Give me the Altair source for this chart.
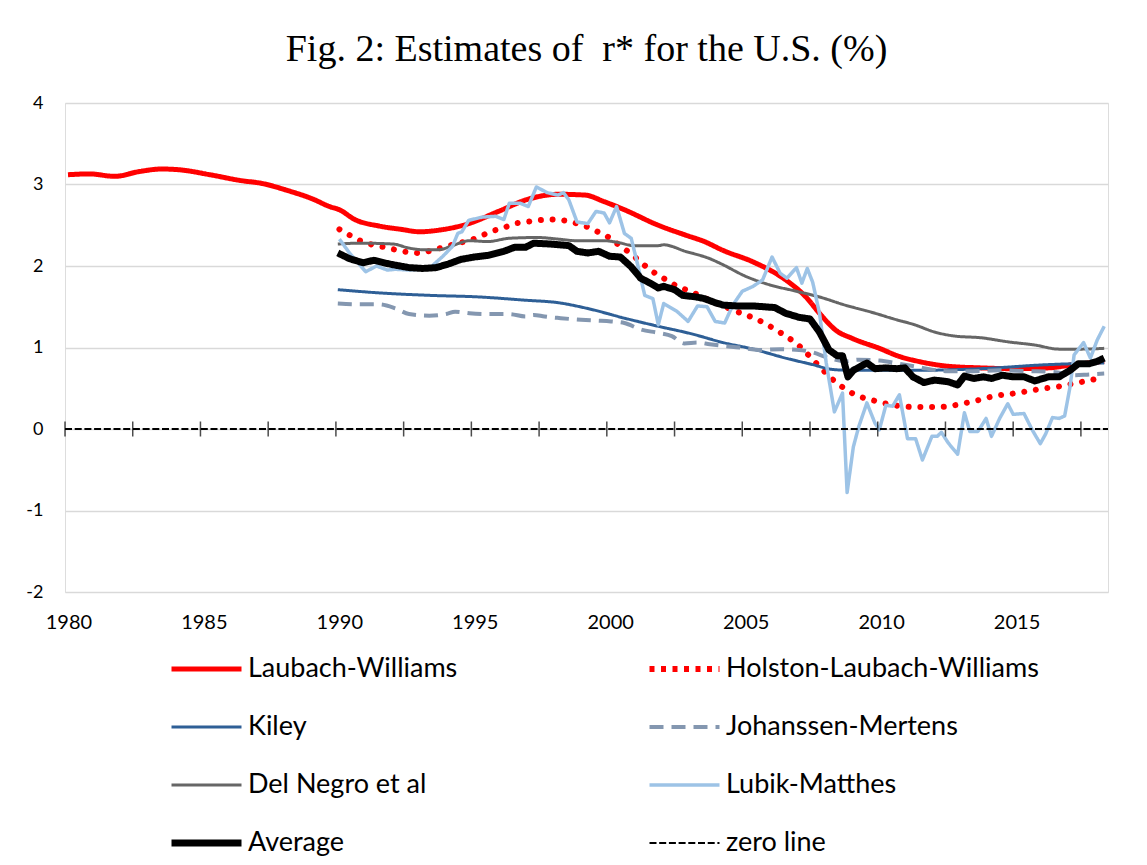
import altair as alt
import pandas as pd

# ---- data (x = decimal year position, y = %) ----
lw_x = [1980.11, 1980.9, 1981.84, 1982.76, 1983.56, 1984.24, 1985.35, 1986.46, 1987.32, 1988.18,
        1989.16, 1989.76, 1990.13, 1990.7, 1991.6, 1992.4, 1993.1, 1993.8, 1994.9, 1996.0, 1997.1,
        1998.2, 1999.2, 1999.9, 2000.65, 2001.9, 2002.9, 2003.6, 2004.3, 2005.4, 2006.6, 2007.35,
        2007.85, 2008.46, 2009.07, 2010.06, 2010.8, 2011.5, 2012.6, 2013.8, 2015.0, 2016.3,
        2017.25, 2018.36]
lw_y = [3.12, 3.13, 3.10, 3.16, 3.19, 3.18, 3.12, 3.05, 3.01, 2.93,
        2.82, 2.73, 2.69, 2.57, 2.49, 2.45, 2.42, 2.44, 2.52, 2.67, 2.82,
        2.88, 2.87, 2.79, 2.69, 2.50, 2.38, 2.30, 2.19, 2.05, 1.83, 1.62,
        1.42, 1.21, 1.11, 0.99, 0.89, 0.83, 0.77, 0.75, 0.74, 0.75,
        0.79, 0.83]

hlw_x = [1990.13, 1990.5, 1990.9, 1991.36, 1991.8, 1992.2, 1992.65, 1993.15, 1993.6, 1994.0, 1994.5,
         1994.9, 1995.3, 1995.7, 1996.2, 1996.6, 1997.0, 1997.45, 1997.94, 1998.4, 1998.8, 1999.2,
         1999.6, 2000.03, 2000.4, 2000.77, 2001.14, 2001.5, 2001.88, 2002.25, 2002.6, 2003.0, 2003.8,
         2004.65, 2005.57, 2006.37, 2007.1, 2007.72, 2008.4, 2009.11, 2009.96, 2010.86, 2011.4,
         2012.2, 2012.64, 2013.1, 2013.56, 2014.0, 2014.4, 2014.9, 2015.3, 2015.8, 2016.2, 2016.66,
         2017.1, 2017.56, 2018.0, 2018.36]
hlw_y = [2.45, 2.38, 2.31, 2.26, 2.23, 2.20, 2.17, 2.16, 2.20, 2.23, 2.28,
         2.31, 2.36, 2.42, 2.47, 2.52, 2.54, 2.56, 2.57, 2.56, 2.53, 2.49,
         2.43, 2.36, 2.27, 2.18, 2.08, 1.98, 1.89, 1.82, 1.75, 1.70, 1.58,
         1.46, 1.34, 1.19, 1.02, 0.81, 0.59, 0.43, 0.34, 0.28, 0.27,
         0.27, 0.28, 0.31, 0.34, 0.38, 0.41, 0.43, 0.45, 0.48, 0.50, 0.52,
         0.55, 0.58, 0.61, 0.64]

kiley_x = [1990.07, 1991.6, 1993.45, 1995.3, 1997.0, 1998.2, 1999.4, 2000.65, 2001.9, 2003.1,
           2004.3, 2005.4, 2006.6, 2007.6, 2008.34, 2009.07, 2010.3, 2011.5, 2013.8, 2016.3, 2018.36]
kiley_y = [1.71, 1.67, 1.64, 1.62, 1.58, 1.55, 1.47, 1.36, 1.26, 1.17,
           1.06, 0.98, 0.87, 0.79, 0.73, 0.72, 0.72, 0.72, 0.74, 0.79, 0.81]

jm_x = [1990.07, 1990.9, 1991.6, 1992.2, 1992.7, 1993.45, 1994.07, 1994.4, 1994.93, 1995.6, 1996.4,
        1997.0, 1997.3, 1997.7, 1998.3, 1999.05, 1999.6, 2000.15, 2000.65, 2001.27, 2001.9, 2002.4,
        2002.86, 2003.35, 2003.8, 2004.3, 2004.9, 2005.6, 2006.4, 2007.1, 2007.6, 2008.2, 2008.8,
        2009.3, 2010.06, 2010.8, 2011.5, 2012.5, 2013.5, 2014.5, 2015.5, 2016.5, 2017.25, 2017.8,
        2018.36]
jm_y = [1.54, 1.53, 1.53, 1.48, 1.41, 1.39, 1.41, 1.44, 1.42, 1.41, 1.41,
        1.38, 1.40, 1.38, 1.36, 1.34, 1.33, 1.32, 1.30, 1.22, 1.18, 1.14,
        1.05, 1.06, 1.04, 1.02, 1.00, 0.97, 0.98, 0.97, 0.94, 0.87, 0.83,
        0.85, 0.84, 0.80, 0.76, 0.71, 0.71, 0.72, 0.71, 0.70, 0.66, 0.67,
        0.68]

dn_x = [1990.07, 1990.9, 1992.1, 1992.7, 1993.2, 1993.8, 1994.3, 1994.93, 1995.6, 1996.4, 1997.45,
        1998.2, 1998.9, 1999.9, 2000.4, 2001.0, 2001.9, 2002.1, 2002.9, 2003.8, 2004.2, 2005.15,
        2006.0, 2007.0, 2007.85, 2008.8, 2009.8, 2010.7, 2011.35, 2012.1, 2012.85, 2013.8, 2014.8,
        2015.8, 2016.7, 2017.5, 2018.36]
dn_y = [2.27, 2.28, 2.27, 2.22, 2.20, 2.20, 2.25, 2.31, 2.30, 2.34, 2.35,
        2.33, 2.31, 2.31, 2.29, 2.25, 2.25, 2.26, 2.18, 2.09, 2.03, 1.87,
        1.77, 1.69, 1.62, 1.52, 1.43, 1.34, 1.28, 1.19, 1.14, 1.12, 1.07,
        1.03, 0.98, 0.98, 0.99]

lm_x = [1990.13, 1990.5, 1991.1, 1991.5, 1991.9, 1992.2, 1992.7, 1993.45, 1993.95, 1994.3, 1994.5,
        1994.65, 1994.9, 1995.4, 1995.9, 1996.2, 1996.4, 1996.8, 1997.1, 1997.4, 1997.8, 1998.2,
        1998.4, 1998.6, 1998.9, 1999.3, 1999.6, 1999.9, 2000.1, 2000.36, 2000.65, 2000.9, 2001.1,
        2001.4, 2001.7, 2001.9, 2002.1, 2002.6, 2003.0, 2003.35, 2003.7, 2004.0, 2004.35, 2004.65,
        2005.0, 2005.4, 2005.75, 2006.1, 2006.4, 2006.65, 2007.0, 2007.2, 2007.4, 2007.6, 2007.85,
        2008.1, 2008.4, 2008.7, 2008.87, 2009.1, 2009.3, 2009.6, 2009.9, 2010.06, 2010.3, 2010.55,
        2010.8, 2011.1, 2011.4, 2011.65, 2012.0, 2012.2, 2012.35, 2012.6, 2012.95, 2013.2, 2013.4,
        2013.7, 2014.0, 2014.2, 2014.5, 2014.8, 2015.0, 2015.4, 2015.7, 2016.0, 2016.2, 2016.45,
        2016.7, 2016.9, 2017.1, 2017.25, 2017.6, 2017.85, 2018.1, 2018.36]
lm_y = [2.33, 2.16, 1.93, 2.00, 1.95, 1.96, 1.95, 1.97, 2.12, 2.24, 2.40,
        2.42, 2.56, 2.60, 2.61, 2.57, 2.77, 2.77, 2.73, 2.97, 2.90, 2.87,
        2.90, 2.81, 2.54, 2.52, 2.67, 2.65, 2.53, 2.73, 2.40, 2.34, 2.07,
        1.64, 1.60, 1.28, 1.54, 1.44, 1.32, 1.51, 1.50, 1.32, 1.30, 1.52,
        1.69, 1.75, 1.83, 2.11, 1.91, 1.85, 1.98, 1.79, 1.97, 1.80, 1.42,
        0.81, 0.21, 0.44, -0.78, -0.22, 0.03, 0.32, 0.07, -0.01, 0.29, 0.28,
        0.42, -0.12, -0.12, -0.38, -0.09, -0.09, -0.04, -0.17, -0.31, 0.20, -0.03,
        -0.03, 0.13, -0.09, 0.13, 0.31, 0.18, 0.19, -0.01, -0.18, -0.06, 0.14,
        0.13, 0.16, 0.52, 0.91, 1.06, 0.87, 1.09, 1.26]

avg_x = [1990.07, 1990.5, 1991.0, 1991.4, 1991.9, 1992.2, 1992.7, 1993.2, 1993.7, 1994.2, 1994.6,
         1995.1, 1995.6, 1996.2, 1996.6, 1997.0, 1997.3, 1997.9, 1998.6, 1998.9, 1999.3, 1999.7,
         2000.1, 2000.5, 2000.9, 2001.25, 2001.6, 2001.9, 2002.1, 2002.5, 2002.8, 2003.3, 2003.6,
         2004.0, 2004.3, 2004.8, 2005.4, 2006.2, 2006.6, 2007.1, 2007.5, 2007.85, 2008.2, 2008.5,
         2008.7, 2008.9, 2009.1, 2009.6, 2009.9, 2010.3, 2010.7, 2011.0, 2011.3, 2011.7, 2012.1,
         2012.6, 2012.95, 2013.2, 2013.55, 2013.9, 2014.2, 2014.6, 2015.0, 2015.4, 2015.8, 2016.3,
         2016.7, 2017.1, 2017.4, 2017.8, 2018.1, 2018.36]
avg_y = [2.16, 2.09, 2.04, 2.07, 2.03, 2.01, 1.98, 1.97, 1.98, 2.03, 2.08,
         2.11, 2.13, 2.18, 2.23, 2.23, 2.28, 2.27, 2.25, 2.18, 2.16, 2.18,
         2.12, 2.11, 1.99, 1.85, 1.79, 1.73, 1.75, 1.71, 1.64, 1.62, 1.60,
         1.55, 1.52, 1.51, 1.51, 1.49, 1.42, 1.37, 1.35, 1.19, 0.97, 0.90,
         0.90, 0.64, 0.72, 0.81, 0.74, 0.75, 0.74, 0.75, 0.64, 0.57, 0.60,
         0.58, 0.54, 0.65, 0.62, 0.64, 0.62, 0.66, 0.64, 0.64, 0.59, 0.64,
         0.64, 0.72, 0.80, 0.80, 0.83, 0.87]

zero_x = [1980.0, 2018.5]
zero_y = [0.0, 0.0]

# drawing order of the series
series_names = ["Laubach-Williams", "Holston-Laubach-Williams", "Kiley", "Johanssen-Mertens",
                "Del Negro et al", "Lubik-Matthes", "Average", "zero line"]
series_colors = ["#ff0000", "#ff0000", "#2e5f96", "#8497b0", "#666666", "#9dc3e6", "#000000", "#000000"]
series_dashes = [[1, 0], [0.01, 11.7], [1, 0], [14, 8], [1, 0], [1, 0], [1, 0], [7, 2.7]]
legend_dashes = [[1, 0], [5, 6.5], [1, 0], [14, 8], [1, 0], [1, 0], [1, 0], [7, 2.7]]
series_widths = [5, 6, 3, 4, 3, 3.5, 7, 2]
series_caps = ["butt", "round", "butt", "butt", "butt", "butt", "butt", "butt"]
smooth = [True, True, True, True, True, False, False, False]

# legend is filled column by column (4 rows x 2 columns)
legend_order = [0, 2, 4, 6, 1, 3, 5, 7]
legend_domain = [series_names[i] for i in legend_order]

year_labels = [1980, 1985, 1990, 1995, 2000, 2005, 2010, 2015]
tick_years = [1980 + 2.5 * i for i in range(16)]
y_ticks = [-2, -1, 0, 1, 2, 3, 4]

xs = [lw_x, hlw_x, kiley_x, jm_x, dn_x, lm_x, avg_x, zero_x]
ys = [lw_y, hlw_y, kiley_y, jm_y, dn_y, lm_y, avg_y, zero_y]
rows = []
for name, sx, sy in zip(series_names, xs, ys):
    for a, b in zip(sx, sy):
        rows.append({"series": name, "x": a, "y": b})
df = pd.DataFrame(rows)
ticks_df = pd.DataFrame({"x": tick_years, "y": [0.0] * len(tick_years)})


def per_series_expr(values, default):
    expr = str(default)
    for n, v in reversed(list(zip(series_names, values))):
        expr = f"datum.value === '{n}' ? {v} : ({expr})"
    return f"datum ? ({expr}) : {default}"


FONT = "Lato"
legend = alt.Legend(
    title=None, orient="none", legendX=103, legendY=551, columns=2, direction="vertical",
    symbolType="stroke", symbolSize=4900, clipHeight=30, rowPadding=28, columnPadding=188,
    gridAlign="each", labelFont=FONT, labelFontSize=27, labelColor="black", labelOffset=3,
    labelLimit=600, padding=0,
    symbolDash=alt.ExprRef(per_series_expr(legend_dashes, "[1, 0]")),
)

x_enc = alt.X("x:Q", scale=alt.Scale(domain=[1980, 2018.5], nice=False, zero=False),
              axis=alt.Axis(values=[v + 0.125 for v in year_labels], labelExpr="floor(datum.value)",
                            grid=False, ticks=False, domain=False, title=None, labelFont=FONT,
                            labelFontSize=20, labelColor="black", labelPadding=20,
                            labelFlush=False))
y_enc = alt.Y("y:Q", scale=alt.Scale(domain=[-2, 4], nice=False, zero=False),
              axis=alt.Axis(values=y_ticks, labelExpr="'' + datum.value", grid=True,
                            gridColor="#d9d9d9", gridWidth=1.5,
                            ticks=False, domain=False, title=None, labelFont=FONT, labelFontSize=18,
                            labelColor="black", labelPadding=22))

base = alt.Chart(df).encode(
    x=x_enc, y=y_enc,
    color=alt.Color("series:N",
                    scale=alt.Scale(domain=legend_domain,
                                    range=[series_colors[i] for i in legend_order]),
                    legend=legend),
    strokeWidth=alt.StrokeWidth("series:N",
                                scale=alt.Scale(type="ordinal", domain=legend_domain,
                                                range=[series_widths[i] for i in legend_order]),
                                legend=legend),
)

layers = []
for name, sm, cap, dash in zip(series_names, smooth, series_caps, series_dashes):
    layers.append(
        base.transform_filter(alt.datum.series == name).mark_line(
            interpolate="monotone" if sm else "linear", strokeJoin="round",
            strokeCap=cap, strokeDash=dash)
    )

tick_layer = alt.Chart(ticks_df).mark_tick(color="black", thickness=1.5, size=15, orient="vertical").encode(
    x="x:Q", y="y:Q")

chart = alt.layer(*layers, tick_layer).properties(
    width=1043, height=489,
    title=alt.Title("Fig. 2: Estimates of \u00a0r* for the U.S. (%)", font="Liberation Serif", fontSize=38,
                    fontWeight="normal", color="black", anchor="middle", offset=25),
    autosize=alt.AutoSizeParams(type="none"),
    padding={"left": 57, "top": 95, "right": 30, "bottom": 272},
).configure_view(stroke=None).configure(background="white")

chart.save("out.html", embed_options={"renderer": "svg", "actions": False})
